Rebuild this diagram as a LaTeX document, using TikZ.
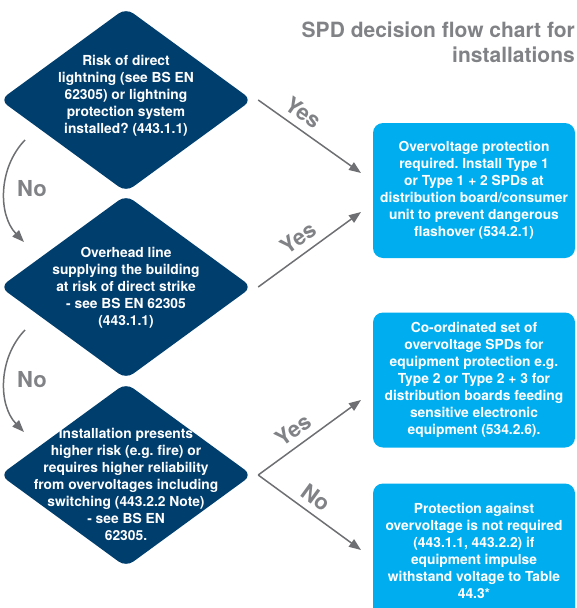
\documentclass[tikz,border=0pt]{standalone}
\usepackage{fontspec}
\setmainfont{TeX Gyre Heros}
\usetikzlibrary{arrows.meta,shapes.geometric}
\definecolor{navy}{RGB}{0,62,110}
\definecolor{skyc}{RGB}{0,174,239}
\definecolor{titlegray}{RGB}{128,130,133}
\definecolor{arrgray}{RGB}{110,111,114}
\frenchspacing
\tikzset{
  dia/.style={diamond, fill=navy, minimum width=252pt, minimum height=184pt, inner sep=0pt, rounded corners=9pt},
  dtext/.style={text=white, font=\bfseries\fontsize{13.8}{17}\selectfont, align=center, inner sep=0pt},
  box/.style={fill=skyc, rounded corners=10pt, minimum width=202pt, minimum height=135pt, text=white, align=center, font=\bfseries\fontsize{13.8}{17}\selectfont, inner sep=0pt},
  arr/.style={draw=arrgray, line width=1.5pt, -{Triangle[length=12pt,width=9pt]}},
  lab/.style={text=titlegray, font=\bfseries\fontsize{22}{24}\selectfont, inner sep=1pt},
  title/.style={text=titlegray, font=\bfseries\fontsize{21}{25}\selectfont, inner sep=0pt}
}
\begin{document}
\begin{tikzpicture}[x=1pt,y=-1pt]
\useasboundingbox (0,0) rectangle (576,608);
\clip (0,0) rectangle (576,608);
% title
\node[title, anchor=base east] (title1) at (575,37) {SPD decision flow chart for};
\node[title, anchor=base east] (title2) at (575,62) {installations};
% diamonds
\node[dia] (d1) at (126,100) {};
\node[dia] (d2) at (126,287) {};
\node[dia] (d3) at (126,475) {};
\node[dtext] (t1) at (126,96) {Risk of direct\\lightning (see BS EN\\62305) or lightning\\protection system\\installed? (443.1.1)};
\node[dtext] (t2) at (126,288) {Overhead line\\supplying the building\\at risk of direct strike\\- see BS EN 62305\\(443.1.1)};
\node[dtext] (t3) at (126,484) {Installation presents\\higher risk (e.g. fire) or\\requires higher reliability\\from overvoltages including\\switching (443.2.2 Note)\\- see BS EN\\62305.};
% boxes
\node[box] (b1) at (474,190.5) {Overvoltage protection\\required. Install Type 1\\or Type 1 + 2 SPDs at\\distribution board/consumer\\unit to prevent dangerous\\flashover (534.2.1)};
\node[box] (b2) at (474,380) {Co-ordinated set of\\overvoltage SPDs for\\equipment protection e.g.\\Type 2 or Type 2 + 3 for\\distribution boards feeding\\sensitive electronic\\equipment (534.2.6).};
\node[box] (b3) at (474,551) {Protection against\\overvoltage is not required\\(443.1.1, 443.2.2) if\\equipment impulse\\withstand voltage to Table\\44.3*};
% arrow end points
\coordinate (e1) at (361,173);
\coordinate (e2) at (361,212);
\coordinate (e3) at (361,400);
\coordinate (e4) at (361,550);
\draw[arr] ([xshift=6pt]d1.east) -- node[lab, pos=0.35, above=6pt, sloped] (y1) {Yes} (e1);
\draw[arr] ([xshift=6pt]d2.east) -- node[lab, pos=0.48, above=6pt, sloped] (y2) {Yes} (e2);
\draw[arr] ([xshift=6pt]d3.east) -- node[lab, pos=0.43, above=6pt, sloped] (y3) {Yes} (e3);
\draw[arr] ([xshift=6pt]d3.east) -- node[lab, pos=0.47, above=6pt, sloped] (n3) {No} (e4);
% left No arrows
\coordinate (s1) at (25,140);
\coordinate (f1) at (24,242);
\coordinate (s2) at (25,330);
\coordinate (f2) at (24,432);
\draw[arr] (s1) .. controls (-2,168) and (-2,215) .. (f1);
\draw[arr] (s2) .. controls (-2,358) and (-2,405) .. (f2);
\node[lab] (n1) at (32,189) {No};
\node[lab] (n2) at (32,380) {No};
\end{tikzpicture}
\end{document}
